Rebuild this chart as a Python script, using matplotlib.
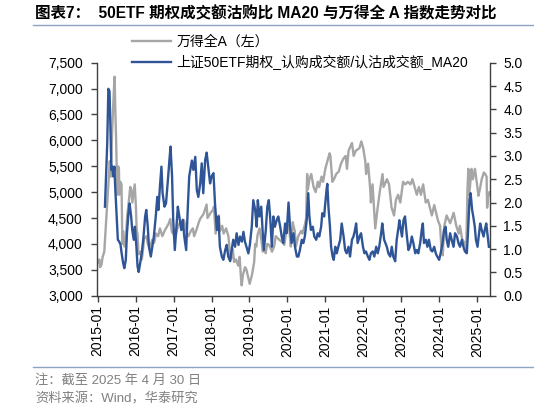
import matplotlib
matplotlib.use('Agg')
import matplotlib.pyplot as plt
import matplotlib.dates as mdates
from matplotlib.lines import Line2D
from matplotlib.ticker import FuncFormatter
import pandas as pd

plt.rcParams['font.family'] = ['Liberation Sans', 'Noto Sans CJK SC']
plt.rcParams['axes.unicode_minus'] = False

# ── 数据：万得全A（左轴） ───────────────────────────────────────
wind_dates = [
    "2015-01-05", "2015-01-16", "2015-01-23", "2015-02-06", "2015-02-17", "2015-03-05",
    "2015-03-17", "2015-03-31", "2015-04-14", "2015-04-27", "2015-05-07", "2015-05-20",
    "2015-05-28", "2015-06-04", "2015-06-12", "2015-06-19", "2015-06-26", "2015-07-03",
    "2015-07-08", "2015-07-16", "2015-07-24", "2015-07-28", "2015-08-07", "2015-08-18",
    "2015-08-26", "2015-09-02", "2015-09-15", "2015-09-30", "2015-10-12", "2015-10-26",
    "2015-11-10", "2015-11-20", "2015-11-30", "2015-12-10", "2015-12-23",
    "2016-01-04", "2016-01-11", "2016-01-19", "2016-01-28", "2016-02-15", "2016-02-29",
    "2016-03-10", "2016-03-22", "2016-04-14", "2016-04-28", "2016-05-18", "2016-06-08",
    "2016-06-27", "2016-07-15", "2016-08-05", "2016-08-22", "2016-09-14", "2016-10-12",
    "2016-10-28", "2016-11-15", "2016-11-29", "2016-12-15", "2016-12-28",
    "2017-01-16", "2017-02-10", "2017-02-27", "2017-03-20", "2017-04-11", "2017-05-10",
    "2017-05-24", "2017-06-15", "2017-07-05", "2017-07-17", "2017-08-10", "2017-08-28",
    "2017-09-12", "2017-10-16", "2017-11-14", "2017-11-23", "2017-12-07", "2017-12-22",
    "2018-01-12", "2018-01-24", "2018-02-09", "2018-02-26", "2018-03-12", "2018-03-23",
    "2018-04-13", "2018-04-27", "2018-05-21", "2018-06-12", "2018-06-28", "2018-07-06",
    "2018-07-24", "2018-08-06", "2018-08-24", "2018-09-14", "2018-09-28", "2018-10-11",
    "2018-10-18", "2018-10-30", "2018-11-19", "2018-12-03", "2018-12-20",
    "2019-01-03", "2019-01-25", "2019-02-15", "2019-02-25", "2019-03-08", "2019-03-20",
    "2019-04-08", "2019-04-25", "2019-05-09", "2019-05-20", "2019-06-06", "2019-06-20",
    "2019-07-10", "2019-08-06", "2019-08-26", "2019-09-11", "2019-10-15", "2019-11-20",
    "2019-12-02", "2019-12-18",
    "2020-01-13", "2020-01-23", "2020-02-03", "2020-02-21", "2020-03-12", "2020-03-23",
    "2020-04-15", "2020-05-12", "2020-05-25", "2020-06-15", "2020-06-30", "2020-07-09",
    "2020-07-16", "2020-07-31", "2020-08-18", "2020-09-09", "2020-09-29", "2020-10-20",
    "2020-11-02", "2020-11-25", "2020-12-10", "2020-12-31",
    "2021-01-20", "2021-02-10", "2021-02-18", "2021-03-09", "2021-03-25", "2021-04-15",
    "2021-05-10", "2021-05-31", "2021-06-24", "2021-07-15", "2021-07-28", "2021-08-12",
    "2021-09-14", "2021-09-30", "2021-10-20", "2021-11-25", "2021-12-13", "2021-12-31",
    "2022-01-20", "2022-01-28", "2022-02-16", "2022-03-09", "2022-03-15", "2022-03-31",
    "2022-04-26", "2022-05-16", "2022-06-08", "2022-07-05", "2022-07-15", "2022-08-17",
    "2022-09-06", "2022-09-30", "2022-10-24", "2022-11-11", "2022-12-02", "2022-12-23",
    "2023-01-19", "2023-02-10", "2023-03-06", "2023-03-31", "2023-04-19", "2023-05-31",
    "2023-06-20", "2023-07-10", "2023-07-31", "2023-08-25", "2023-09-15", "2023-10-23",
    "2023-11-15", "2023-12-21",
    "2024-01-10", "2024-01-22", "2024-02-05", "2024-02-20", "2024-03-13", "2024-04-16",
    "2024-05-20", "2024-06-14", "2024-07-08", "2024-07-19", "2024-08-09", "2024-09-06",
    "2024-09-18", "2024-09-30", "2024-10-08", "2024-10-17", "2024-11-08", "2024-11-21",
    "2024-12-11", "2024-12-31",
    "2025-01-13", "2025-01-27", "2025-02-14", "2025-03-07", "2025-03-20", "2025-04-02",
    "2025-04-07", "2025-04-16", "2025-04-30",
]
wind_values = [
    3650, 3700, 3550, 3600, 3750, 3850,
    4250, 4700, 5150, 5600, 5300, 6200,
    6600, 6900, 7230, 6600, 6100, 5400,
    4950, 5500, 5450, 4950, 5200, 5150,
    4000, 4250, 3950, 4150, 4550, 4800,
    5100, 5050, 4800, 4950, 5150,
    4700, 4250, 4200, 3800, 3850, 3700,
    3850, 4100, 4150, 4000, 3920, 4080,
    4020, 4200, 4150, 4300, 4150, 4280,
    4330, 4400, 4480, 4230, 4200,
    4130, 4330, 4400, 4420, 4460, 4200,
    4150, 4250, 4300, 4150, 4280, 4400,
    4480, 4580, 4760, 4500, 4550, 4600,
    4650, 4720, 4200, 4450, 4550, 4250,
    4350, 4200, 4300, 4150, 3800, 3700,
    3900, 3650, 3700, 3580, 3750, 3350,
    3200, 3400, 3550, 3500, 3350,
    3230, 3400, 3650, 4000, 3950, 4180,
    4300, 4080, 3850, 3900, 3820, 4000,
    3980, 3850, 3950, 4150, 4080, 4020,
    3980, 4200,
    4370, 4200, 3950, 4420, 4250, 3950,
    4150, 4250, 4200, 4350, 4500, 5350,
    5050, 5250, 5350, 5100, 5000, 5200,
    5100, 5300, 5200, 5450,
    5600, 5750, 5700, 5200, 5250, 5350,
    5400, 5550, 5650, 5700, 5450, 5800,
    5950, 5700, 5800, 5850, 5980, 5850,
    5600, 5350, 5550, 5050, 4800, 5150,
    4300, 4650, 5000, 5350, 5100, 5250,
    5150, 4700, 4550, 4850, 4950, 4800,
    5200, 5150, 5200, 5150, 5250, 4950,
    5100, 4950, 5150, 4800, 4850, 4550,
    4750, 4450,
    4350, 3950, 3780, 4350, 4550, 4400,
    4600, 4350, 4200, 4350, 4100, 4000,
    3880, 5050, 5450, 4950, 5450, 5250,
    5450, 5150,
    4930, 5050, 5250, 5380, 5350, 5300,
    4700, 4900, 5000,
]

# ── 数据：上证50ETF期权 认购/认沽成交额 MA20（右轴），时间为小数年 ──
ratio_time = [
    2015.19, 2015.25, 2015.28, 2015.31, 2015.33, 2015.36, 2015.38, 2015.41, 2015.44, 2015.46,
    2015.49, 2015.53, 2015.56, 2015.60, 2015.63, 2015.67, 2015.70, 2015.74, 2015.77, 2015.81,
    2015.84, 2015.88, 2015.91, 2015.95, 2015.98,
    2016.02, 2016.05, 2016.08, 2016.12, 2016.16, 2016.20, 2016.25, 2016.28, 2016.32, 2016.35,
    2016.40, 2016.44, 2016.48, 2016.53, 2016.57, 2016.60, 2016.64, 2016.68, 2016.71, 2016.76,
    2016.80, 2016.85, 2016.89, 2016.92, 2016.96, 2016.99,
    2017.03, 2017.06, 2017.11, 2017.15, 2017.20, 2017.24, 2017.28, 2017.33, 2017.37, 2017.41,
    2017.44, 2017.48, 2017.52, 2017.57, 2017.61, 2017.65, 2017.70, 2017.74, 2017.78, 2017.83,
    2017.87, 2017.92, 2017.96,
    2018.00, 2018.05, 2018.09, 2018.14, 2018.18, 2018.22, 2018.27, 2018.31, 2018.36, 2018.40,
    2018.44, 2018.49, 2018.53, 2018.57, 2018.62, 2018.66, 2018.71, 2018.75, 2018.80, 2018.84,
    2018.88, 2018.93, 2018.97,
    2019.01, 2019.06, 2019.10, 2019.15, 2019.19, 2019.22, 2019.26, 2019.31, 2019.35, 2019.38,
    2019.43, 2019.47, 2019.51, 2019.55, 2019.59, 2019.63, 2019.67, 2019.72, 2019.76, 2019.81,
    2019.85, 2019.89, 2019.94, 2019.98,
    2020.03, 2020.07, 2020.11, 2020.16, 2020.20, 2020.25, 2020.29, 2020.33, 2020.38, 2020.42,
    2020.46, 2020.51, 2020.55, 2020.58, 2020.62, 2020.67, 2020.71, 2020.76, 2020.80, 2020.84,
    2020.89, 2020.92, 2020.97, 2020.99,
    2021.03, 2021.05, 2021.08, 2021.12, 2021.15, 2021.19, 2021.22, 2021.26, 2021.30, 2021.34,
    2021.39, 2021.43, 2021.48, 2021.52, 2021.56, 2021.61, 2021.65, 2021.70, 2021.74, 2021.78,
    2021.81, 2021.85, 2021.90, 2021.94, 2021.99,
    2022.03, 2022.07, 2022.12, 2022.16, 2022.20, 2022.25, 2022.29, 2022.34, 2022.38, 2022.42,
    2022.47, 2022.50, 2022.55, 2022.62, 2022.66, 2022.71, 2022.75, 2022.79, 2022.84, 2022.88,
    2022.93, 2022.95, 2022.99,
    2023.02, 2023.06, 2023.10, 2023.15, 2023.19, 2023.23, 2023.28, 2023.32, 2023.37, 2023.41,
    2023.45, 2023.50, 2023.54, 2023.57, 2023.60, 2023.65, 2023.69, 2023.73, 2023.78, 2023.82,
    2023.87, 2023.91, 2023.95,
    2024.00, 2024.04, 2024.09, 2024.13, 2024.17, 2024.20, 2024.24, 2024.29, 2024.33, 2024.38,
    2024.42, 2024.47, 2024.51, 2024.55, 2024.60, 2024.64, 2024.68, 2024.73, 2024.76, 2024.80,
    2024.83, 2024.87, 2024.90, 2024.94, 2024.97,
    2025.01, 2025.05, 2025.08, 2025.12, 2025.17, 2025.20, 2025.24, 2025.27, 2025.31,
]
ratio_values = [
    1.91, 3.27, 4.44, 4.39, 3.77, 2.70, 2.77, 2.56, 2.77, 2.34,
    1.84, 1.20, 1.17, 1.10, 0.91, 0.70, 0.59, 0.77, 1.34, 1.77,
    1.98, 1.70, 1.41, 1.20, 1.48,
    1.05, 0.63, 0.51, 0.70, 0.91, 1.20, 1.70, 1.84, 1.48, 1.05,
    0.84, 1.05, 1.27, 1.70, 2.12, 1.84, 2.34, 2.77, 2.20, 1.91,
    1.98, 2.48, 2.91, 3.20, 2.56, 1.63,
    0.98, 1.34, 1.91, 1.70, 1.41, 1.63, 1.27, 0.98, 1.84, 2.56,
    2.70, 2.90, 2.70, 2.98, 2.27, 2.12, 2.41, 2.84, 2.20, 2.91,
    3.07, 2.70, 2.41,
    2.56, 2.63, 1.98, 1.41, 1.70, 1.05, 0.84, 0.77, 0.98, 1.09,
    0.84, 0.74, 0.98, 1.20, 1.05, 1.34, 1.09, 1.27, 1.16, 1.37,
    1.16, 1.02, 0.91,
    1.09, 1.48, 2.05, 1.84, 1.48, 2.05, 1.70, 1.91, 1.34, 0.98,
    1.41, 1.91, 2.05, 1.63, 1.05, 1.70, 1.48, 1.63, 1.70, 1.48,
    1.27, 1.13, 1.55, 1.34,
    2.00, 1.48, 1.13, 1.34, 1.05, 0.84, 0.84, 0.98, 1.20, 1.13,
    1.27, 1.63, 2.20, 1.70, 1.41, 1.48, 1.27, 1.20, 1.34, 1.27,
    1.48, 1.77, 1.70, 1.91,
    2.27, 2.40, 1.91, 1.48, 1.05, 0.84, 0.77, 1.05, 0.91, 1.05,
    1.20, 1.55, 1.27, 0.98, 0.91, 1.05, 0.84, 1.20, 1.27, 1.41,
    1.55, 1.13, 1.27, 1.34, 1.05,
    0.91, 0.95, 0.84, 0.77, 0.91, 0.95, 0.84, 1.05, 0.91, 1.05,
    1.34, 1.55, 1.20, 1.05, 0.91, 0.84, 1.05, 0.84, 0.74, 1.20,
    1.48, 1.62, 1.41,
    1.27, 1.62, 1.70, 1.27, 0.98, 1.05, 1.27, 1.13, 0.91, 0.98,
    0.91, 1.13, 1.41, 1.55, 1.13, 1.20, 1.05, 1.20, 0.98, 0.95,
    1.05, 0.91, 0.84,
    0.77, 0.91, 1.13, 1.41, 1.48, 1.20, 1.05, 1.34, 1.20, 1.05,
    1.34, 1.27, 1.13, 1.05, 1.20, 1.05, 0.95, 0.91, 1.34, 2.05,
    2.20, 1.84, 1.70, 1.48, 1.20,
    1.05, 1.34, 1.55, 1.41, 1.27, 1.41, 1.55, 1.34, 1.05,
]

year_ticks = [f"{y}-01-01" for y in range(2015, 2026)]
left_ticks = list(range(3000, 7501, 500))
right_ticks = [i * 0.5 for i in range(11)]

title = "图表7：  50ETF 期权成交额沽购比 MA20 与万得全 A 指数走势对比"
label_wind = "万得全A（左）"
label_ratio = "上证50ETF期权_认购成交额/认沽成交额_MA20"
note_1 = "注：截至 2025 年 4 月 30 日"
note_2 = "资料来源：Wind，华泰研究"


def decimal_year(v):
    y = int(v)
    return pd.Timestamp(year=y, month=1, day=1) + pd.Timedelta(days=(v - y) * 365.25)


wind_x = pd.to_datetime(wind_dates)
ratio_x = [decimal_year(v) for v in ratio_time]

GRAY = '#A6A6A6'
BLUE = '#2F5597'
AXC = '#404040'
RULE = '#8EA2C6'

W, H = 534, 412
fig = plt.figure(figsize=(W / 100, H / 100), dpi=100)
ax = fig.add_axes([96.7 / W, 1 - 295.7 / H, (489.5 - 96.7) / W, (295.7 - 62.7) / H])
ax2 = ax.twinx()

l1, = ax.plot(wind_x, wind_values, color=GRAY, lw=1.7, label=label_wind)
l2, = ax2.plot(ratio_x, ratio_values, color=BLUE, lw=1.7, label=label_ratio)

ax.set_xlim(pd.Timestamp("2014-12-22"), pd.Timestamp("2025-04-30"))
ax.set_ylim(3000, 7500)
ax2.set_ylim(0, 5)

ax.set_xticks(pd.to_datetime(year_ticks))
ax.xaxis.set_major_formatter(mdates.DateFormatter('%Y-%m'))
ax.set_yticks(left_ticks)
ax.yaxis.set_major_formatter(FuncFormatter(lambda v, p: f"{int(v):,}"))
ax2.set_yticks(right_ticks)
ax2.yaxis.set_major_formatter(FuncFormatter(lambda v, p: f"{v:.1f}"))

for a in (ax, ax2):
    a.spines['top'].set_visible(False)
    for s in a.spines.values():
        s.set_color(AXC)
        s.set_linewidth(1.0)
    a.tick_params(direction='out', length=4, width=1.0, color=AXC,
                  labelsize=10, labelcolor='black')
ax.spines['right'].set_visible(False)
ax2.spines['left'].set_visible(False)
ax2.spines['bottom'].set_visible(False)
ax.tick_params(axis='x', labelrotation=90, pad=3)
ax.tick_params(axis='y', pad=6)
ax2.tick_params(axis='y', pad=6)

fig.legend(handles=[l1, l2], loc='upper left',
           bbox_to_anchor=(132 / W, 1 - 34.5 / H), frameon=False,
           fontsize=10, handlelength=2.8, handletextpad=0.4,
           labelspacing=0.45, borderpad=0, borderaxespad=0)

# 标题与分隔线
fig.text(35 / W, 1 - 14 / H, title, fontsize=11.2, fontweight='bold',
         ha='left', va='center', color='black')
fig.add_artist(Line2D([33 / W, 1.0], [1 - 24.5 / H] * 2, color=RULE, lw=1.0))
fig.add_artist(Line2D([33 / W, 1.0], [1 - 367 / H] * 2, color=RULE, lw=1.0))

fig.text(35 / W, 1 - 380 / H, note_1, fontsize=9.5, color='#808080', ha='left', va='center')
fig.text(35 / W, 1 - 399 / H, note_2, fontsize=9.5, color='#808080', ha='left', va='center')

fig.savefig('out.png', dpi=100)
